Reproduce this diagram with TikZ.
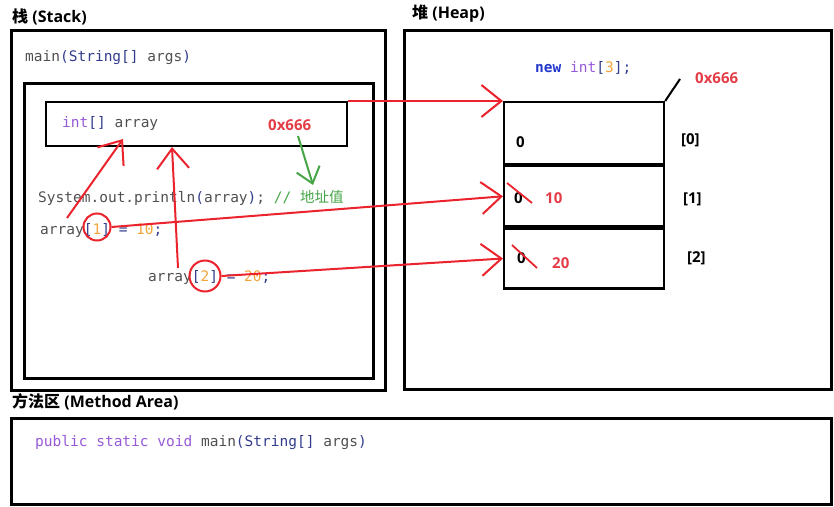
\documentclass[tikz,border=0pt]{standalone}
\usepackage{fontspec}
\setsansfont{Open Sans}
\setmonofont{DejaVu Sans Mono}
\newfontfamily\cjk{Noto Sans CJK SC}
\usetikzlibrary{arrows.meta}

\definecolor{kwpurple}{RGB}{150,90,215}
\definecolor{kwblue}{RGB}{35,55,205}
\definecolor{brk}{RGB}{50,60,140}
\definecolor{numorange}{RGB}{240,165,60}
\definecolor{cmtgreen}{RGB}{70,165,70}
\definecolor{codegray}{RGB}{80,80,80}
\definecolor{markred}{RGB}{235,35,45}
\definecolor{addrred}{RGB}{228,60,70}

\newcommand{\codefont}{\ttfamily\fontsize{14.5}{17}\selectfont}
\newcommand{\labfont}{\sffamily\bfseries\fontsize{15}{18}\selectfont}

\tikzset{
	areabox/.style={draw, line width=2.6pt, anchor=north west, inner sep=0pt},
	cellbox/.style={draw, line width=2.2pt, minimum width=160pt, minimum height=60pt, inner sep=0pt},
	codetxt/.style={anchor=west, inner sep=0pt, font=\codefont, text=codegray},
	labtxt/.style={anchor=west, inner sep=0pt, font=\labfont},
	headtxt/.style={anchor=west, inner sep=0pt, font=\sffamily\bfseries\fontsize{16}{19}\selectfont},
	ring/.style={circle, draw=markred, line width=2pt, inner sep=0pt},
	redarrow/.style={markred, line width=2pt, -{Straight Barb[length=20pt,width=32pt]}},
	greenarrow/.style={cmtgreen, line width=2pt, -{Straight Barb[length=15pt,width=24pt]}},
}

\begin{document}
\begin{tikzpicture}[x=1pt, y=-1pt]
	\useasboundingbox (0,0) rectangle (834,506);

	% stack
	\node[headtxt] (stkhead) at (12,17) {{\cjk\bfseries 栈} (Stack)};
	\node[areabox, minimum width=374pt, minimum height=360pt] (stack) at (10,29) {};
	\node[codetxt] (sig) at (25,58) {main\textcolor{brk}{(String[]} args\textcolor{brk}{)}};
	\node[areabox, minimum width=349pt, minimum height=295pt] (frame) at (23,82) {};
	\node[areabox, line width=2.2pt, minimum width=301pt, minimum height=44pt] (arr) at (45,101) {};
	\node[codetxt] (decl) at (62,123) {\textcolor{kwpurple}{int}\textcolor{brk}{[]} array};
	\node[labtxt, text=addrred] (addr) at (268,125) {0x666};
	\node[codetxt] (prn) at (38,198) {System.out.println\textcolor{brk}{(}array\textcolor{brk}{)}; \textcolor{cmtgreen}{// {\cjk 地址值}}};
	\node[codetxt] (set1) at (40,230) {array\textcolor{brk}{[}\textcolor{numorange}{1}\textcolor{brk}{] =} \textcolor{numorange}{10}\textcolor{brk}{;}};
	\node[codetxt] (set2) at (148,277) {array\textcolor{brk}{[}\textcolor{numorange}{2}\textcolor{brk}{] =} \textcolor{numorange}{20}\textcolor{brk}{;}};

	% heap
	\node[headtxt] (heaphead) at (412,14) {{\cjk\bfseries 堆} (Heap)};
	\node[areabox, minimum width=427pt, minimum height=359pt] (heap) at (403,29) {};
	\node[codetxt] (newarr) at (535,68) {\textcolor{kwblue}{\bfseries new} \textcolor{kwpurple}{int}\textcolor{brk}{[}\textcolor{numorange}{3}\textcolor{brk}{];}};
	\node[cellbox, anchor=north west, minimum height=62pt] (c0) at (503,101) {};
	\node[cellbox, anchor=north] (c1) at (c0.south) {};
	\node[cellbox, anchor=north] (c2) at (c1.south) {};
	\node[labtxt] (v0) at (516,142) {0};
	\node[labtxt] (v1) at (514,198) {0};
	\node[labtxt] (v2) at (517,258) {0};
	\node[labtxt, text=addrred] (n1) at (545,198) {10};
	\node[labtxt, text=addrred] (n2) at (552,263) {20};
	\node[labtxt] (i0) at (681,140) {[0]};
	\node[labtxt] (i1) at (683,199) {[1]};
	\node[labtxt] (i2) at (687,258) {[2]};
	\node[labtxt, text=addrred] (haddr) at (695,78) {0x666};
	\coordinate (hook) at (680,79);
	\draw[line width=2pt] (c0.north east) -- (hook);

	% method area
	\node[headtxt] (methead) at (12,402) {{\cjk\bfseries 方法区} (Method Area)};
	\node[areabox, minimum width=820pt, minimum height=86pt] (method) at (10,417) {};
	\node[codetxt] (pub) at (35,443) {\textcolor{kwpurple}{public static void} main\textcolor{brk}{(String[]} args\textcolor{brk}{)}};

	% marks
	\node[ring, minimum size=27pt] (o1) at (97,227) {};
	\node[ring, minimum size=31pt] (o2) at (205,276) {};
	\coordinate (f1) at (67,218);
	\coordinate (t1) at (123,139);
	\coordinate (f2) at (178,268);
	\coordinate (t2) at (172,147);
	\coordinate (g1) at (298,136);
	\coordinate (g2) at (313,185);
	\draw[redarrow] (arr.north east) -- (c0.north west);
	\draw[redarrow] (o1.east) -- (c1.west);
	\draw[redarrow] (o2.east) -- (c2.west);
	\draw[redarrow] (f1) -- (t1);
	\draw[redarrow] (f2) -- (t2);
	\draw[greenarrow] (g1) -- (g2);
	\draw[markred, line width=1.8pt] (507,183) -- (532,203);
	\draw[markred, line width=1.8pt] (512,245) -- (537,268);
\end{tikzpicture}
\end{document}
